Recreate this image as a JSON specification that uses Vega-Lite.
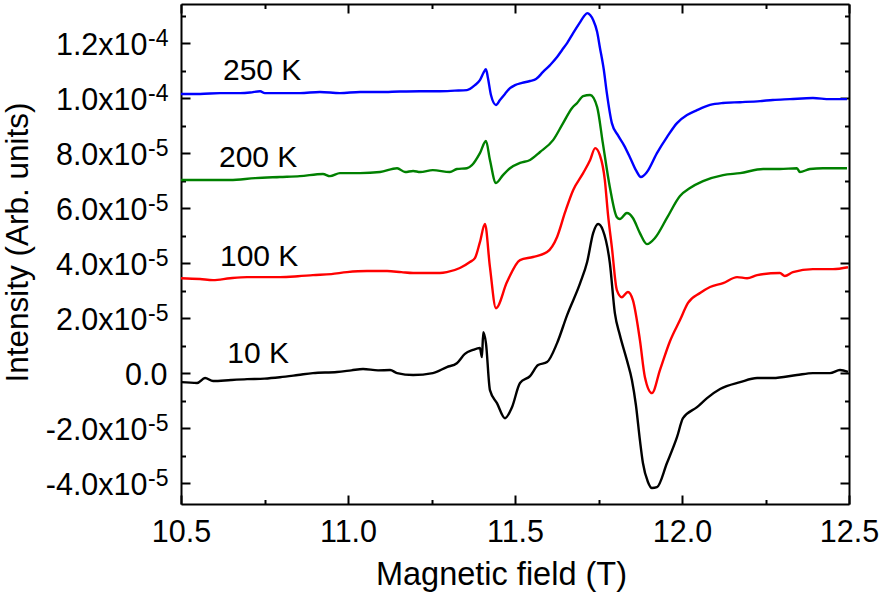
{
  "$schema": "https://vega.github.io/schema/vega-lite/v6.json",
  "width": 668,
  "height": 500,
  "autosize": {"type": "none"},
  "padding": {"left": 181, "top": 4, "right": 31, "bottom": 88},
  "background": "white",
  "config": {
    "view": {"stroke": null},
    "font": "Liberation Sans",
    "axis": {
      "grid": false,
      "domainColor": "black",
      "domainWidth": 2,
      "tickColor": "black",
      "tickWidth": 2,
      "labelColor": "black",
      "titleColor": "black",
      "labelFont": "Liberation Sans",
      "titleFont": "Liberation Sans",
      "labelFontWeight": "normal",
      "titleFontWeight": "normal",
      "labelOverlap": false,
      "labelFlush": false,
      "labelBound": false
    }
  },
  "datasets": {
    "k10": [
      {"B": 10.500, "I": -0.33e-5}, {"B": 10.548, "I": -0.36e-5}, {"B": 10.572, "I": -0.18e-5}, {"B": 10.596, "I": -0.29e-5},
      {"B": 10.650, "I": -0.25e-5}, {"B": 10.698, "I": -0.22e-5}, {"B": 10.750, "I": -0.20e-5}, {"B": 10.796, "I": -0.15e-5},
      {"B": 10.850, "I": -0.07e-5}, {"B": 10.895, "I": 0.0}, {"B": 10.967, "I": 0.04e-5}, {"B": 11.010, "I": 0.10e-5},
      {"B": 11.045, "I": 0.15e-5}, {"B": 11.090, "I": 0.10e-5}, {"B": 11.126, "I": 0.11e-5}, {"B": 11.147, "I": 0.0},
      {"B": 11.195, "I": -0.07e-5}, {"B": 11.254, "I": 0.0}, {"B": 11.296, "I": 0.22e-5}, {"B": 11.326, "I": 0.36e-5},
      {"B": 11.350, "I": 0.70e-5}, {"B": 11.374, "I": 0.84e-5}, {"B": 11.395, "I": 0.91e-5}, {"B": 11.401, "I": 0.58e-5},
      {"B": 11.405, "I": 1.49e-5}, {"B": 11.413, "I": 1.09e-5}, {"B": 11.425, "I": -0.62e-5}, {"B": 11.446, "I": -1.09e-5},
      {"B": 11.470, "I": -1.64e-5}, {"B": 11.491, "I": -1.24e-5}, {"B": 11.515, "I": -0.36e-5}, {"B": 11.545, "I": -0.11e-5},
      {"B": 11.569, "I": 0.29e-5}, {"B": 11.596, "I": 0.40e-5}, {"B": 11.626, "I": 1.09e-5}, {"B": 11.656, "I": 2.11e-5},
      {"B": 11.695, "I": 3.27e-5}, {"B": 11.716, "I": 4.04e-5}, {"B": 11.734, "I": 5.09e-5}, {"B": 11.749, "I": 5.42e-5},
      {"B": 11.763, "I": 5.20e-5}, {"B": 11.784, "I": 4.00e-5}, {"B": 11.799, "I": 2.18e-5}, {"B": 11.814, "I": 1.38e-5},
      {"B": 11.835, "I": 0.47e-5}, {"B": 11.850, "I": -0.25e-5}, {"B": 11.862, "I": -1.16e-5}, {"B": 11.874, "I": -2.44e-5},
      {"B": 11.883, "I": -3.27e-5}, {"B": 11.898, "I": -3.96e-5}, {"B": 11.910, "I": -4.18e-5}, {"B": 11.925, "I": -4.15e-5},
      {"B": 11.955, "I": -3.27e-5}, {"B": 11.985, "I": -2.33e-5}, {"B": 12.003, "I": -1.64e-5}, {"B": 12.045, "I": -1.24e-5},
      {"B": 12.075, "I": -0.91e-5}, {"B": 12.114, "I": -0.58e-5}, {"B": 12.174, "I": -0.33e-5}, {"B": 12.225, "I": -0.18e-5},
      {"B": 12.272, "I": -0.18e-5}, {"B": 12.344, "I": -0.07e-5}, {"B": 12.392, "I": 0.0}, {"B": 12.443, "I": 0.0},
      {"B": 12.473, "I": 0.11e-5}, {"B": 12.497, "I": 0.04e-5}
    ],
    "k100": [
      {"B": 10.500, "I": 3.45e-5}, {"B": 10.557, "I": 3.42e-5}, {"B": 10.596, "I": 3.38e-5}, {"B": 10.647, "I": 3.45e-5},
      {"B": 10.698, "I": 3.49e-5}, {"B": 10.751, "I": 3.49e-5}, {"B": 10.796, "I": 3.49e-5}, {"B": 10.850, "I": 3.52e-5},
      {"B": 10.895, "I": 3.56e-5}, {"B": 10.950, "I": 3.60e-5}, {"B": 10.997, "I": 3.67e-5}, {"B": 11.057, "I": 3.71e-5},
      {"B": 11.117, "I": 3.71e-5}, {"B": 11.160, "I": 3.67e-5}, {"B": 11.195, "I": 3.64e-5}, {"B": 11.275, "I": 3.64e-5},
      {"B": 11.296, "I": 3.67e-5}, {"B": 11.335, "I": 3.82e-5}, {"B": 11.365, "I": 4.04e-5}, {"B": 11.380, "I": 4.18e-5},
      {"B": 11.395, "I": 4.76e-5}, {"B": 11.410, "I": 5.42e-5}, {"B": 11.425, "I": 3.85e-5}, {"B": 11.443, "I": 2.36e-5},
      {"B": 11.476, "I": 3.31e-5}, {"B": 11.515, "I": 4.11e-5}, {"B": 11.554, "I": 4.22e-5}, {"B": 11.596, "I": 4.40e-5},
      {"B": 11.626, "I": 4.95e-5}, {"B": 11.650, "I": 5.85e-5}, {"B": 11.674, "I": 6.65e-5}, {"B": 11.704, "I": 7.27e-5},
      {"B": 11.725, "I": 7.75e-5}, {"B": 11.740, "I": 8.18e-5}, {"B": 11.754, "I": 7.93e-5}, {"B": 11.769, "I": 7.02e-5},
      {"B": 11.778, "I": 5.82e-5}, {"B": 11.790, "I": 4.58e-5}, {"B": 11.805, "I": 3.02e-5}, {"B": 11.820, "I": 2.76e-5},
      {"B": 11.838, "I": 2.95e-5}, {"B": 11.853, "I": 2.65e-5}, {"B": 11.874, "I": 1.20e-5}, {"B": 11.889, "I": -0.15e-5},
      {"B": 11.910, "I": -0.73e-5}, {"B": 11.934, "I": 0.11e-5}, {"B": 11.964, "I": 1.16e-5}, {"B": 11.994, "I": 1.93e-5},
      {"B": 12.018, "I": 2.55e-5}, {"B": 12.054, "I": 2.91e-5}, {"B": 12.084, "I": 3.13e-5}, {"B": 12.123, "I": 3.27e-5},
      {"B": 12.165, "I": 3.49e-5}, {"B": 12.195, "I": 3.45e-5}, {"B": 12.225, "I": 3.56e-5}, {"B": 12.293, "I": 3.64e-5},
      {"B": 12.308, "I": 3.53e-5}, {"B": 12.332, "I": 3.67e-5}, {"B": 12.392, "I": 3.78e-5}, {"B": 12.452, "I": 3.78e-5},
      {"B": 12.497, "I": 3.85e-5}
    ],
    "k200": [
      {"B": 10.500, "I": 7.02e-5}, {"B": 10.557, "I": 7.02e-5}, {"B": 10.647, "I": 7.02e-5}, {"B": 10.722, "I": 7.09e-5},
      {"B": 10.796, "I": 7.13e-5}, {"B": 10.856, "I": 7.16e-5}, {"B": 10.925, "I": 7.24e-5}, {"B": 10.946, "I": 7.16e-5},
      {"B": 10.976, "I": 7.27e-5}, {"B": 11.036, "I": 7.27e-5}, {"B": 11.096, "I": 7.31e-5}, {"B": 11.147, "I": 7.45e-5},
      {"B": 11.171, "I": 7.31e-5}, {"B": 11.195, "I": 7.35e-5}, {"B": 11.216, "I": 7.31e-5}, {"B": 11.254, "I": 7.38e-5},
      {"B": 11.305, "I": 7.31e-5}, {"B": 11.326, "I": 7.42e-5}, {"B": 11.356, "I": 7.45e-5}, {"B": 11.371, "I": 7.56e-5},
      {"B": 11.395, "I": 8.00e-5}, {"B": 11.413, "I": 8.44e-5}, {"B": 11.425, "I": 7.75e-5}, {"B": 11.443, "I": 6.91e-5},
      {"B": 11.464, "I": 7.20e-5}, {"B": 11.485, "I": 7.45e-5}, {"B": 11.515, "I": 7.64e-5}, {"B": 11.545, "I": 7.75e-5},
      {"B": 11.575, "I": 8.04e-5}, {"B": 11.614, "I": 8.47e-5}, {"B": 11.644, "I": 9.09e-5}, {"B": 11.671, "I": 9.64e-5},
      {"B": 11.686, "I": 9.82e-5}, {"B": 11.704, "I": 10.07e-5}, {"B": 11.725, "I": 10.11e-5}, {"B": 11.746, "I": 9.67e-5},
      {"B": 11.763, "I": 8.36e-5}, {"B": 11.784, "I": 6.76e-5}, {"B": 11.805, "I": 5.67e-5}, {"B": 11.814, "I": 5.60e-5},
      {"B": 11.835, "I": 5.82e-5}, {"B": 11.853, "I": 5.64e-5}, {"B": 11.874, "I": 5.09e-5}, {"B": 11.895, "I": 4.69e-5},
      {"B": 11.919, "I": 4.91e-5}, {"B": 11.955, "I": 5.64e-5}, {"B": 11.994, "I": 6.44e-5}, {"B": 12.024, "I": 6.73e-5},
      {"B": 12.063, "I": 6.98e-5}, {"B": 12.123, "I": 7.20e-5}, {"B": 12.174, "I": 7.27e-5}, {"B": 12.243, "I": 7.42e-5},
      {"B": 12.293, "I": 7.42e-5}, {"B": 12.344, "I": 7.45e-5}, {"B": 12.353, "I": 7.31e-5}, {"B": 12.383, "I": 7.42e-5},
      {"B": 12.422, "I": 7.45e-5}, {"B": 12.494, "I": 7.45e-5}
    ],
    "k250": [
      {"B": 10.500, "I": 10.15e-5}, {"B": 10.557, "I": 10.15e-5}, {"B": 10.617, "I": 10.18e-5}, {"B": 10.677, "I": 10.18e-5},
      {"B": 10.707, "I": 10.20e-5}, {"B": 10.737, "I": 10.25e-5}, {"B": 10.751, "I": 10.18e-5}, {"B": 10.796, "I": 10.18e-5},
      {"B": 10.856, "I": 10.18e-5}, {"B": 10.916, "I": 10.22e-5}, {"B": 10.976, "I": 10.18e-5}, {"B": 11.036, "I": 10.22e-5},
      {"B": 11.096, "I": 10.22e-5}, {"B": 11.156, "I": 10.24e-5}, {"B": 11.216, "I": 10.25e-5}, {"B": 11.275, "I": 10.25e-5},
      {"B": 11.320, "I": 10.27e-5}, {"B": 11.356, "I": 10.29e-5}, {"B": 11.380, "I": 10.47e-5}, {"B": 11.395, "I": 10.65e-5},
      {"B": 11.407, "I": 10.95e-5}, {"B": 11.413, "I": 11.05e-5}, {"B": 11.419, "I": 10.73e-5}, {"B": 11.428, "I": 10.11e-5},
      {"B": 11.443, "I": 9.75e-5}, {"B": 11.455, "I": 9.93e-5}, {"B": 11.470, "I": 10.15e-5}, {"B": 11.485, "I": 10.36e-5},
      {"B": 11.500, "I": 10.47e-5}, {"B": 11.521, "I": 10.55e-5}, {"B": 11.545, "I": 10.62e-5}, {"B": 11.563, "I": 10.69e-5},
      {"B": 11.584, "I": 10.95e-5}, {"B": 11.605, "I": 11.20e-5}, {"B": 11.626, "I": 11.49e-5}, {"B": 11.641, "I": 11.75e-5},
      {"B": 11.656, "I": 12.00e-5}, {"B": 11.674, "I": 12.36e-5}, {"B": 11.695, "I": 12.76e-5}, {"B": 11.707, "I": 12.98e-5},
      {"B": 11.716, "I": 13.09e-5}, {"B": 11.725, "I": 13.02e-5}, {"B": 11.734, "I": 12.84e-5}, {"B": 11.746, "I": 12.40e-5},
      {"B": 11.754, "I": 11.85e-5}, {"B": 11.766, "I": 11.02e-5}, {"B": 11.775, "I": 10.18e-5}, {"B": 11.790, "I": 9.09e-5},
      {"B": 11.808, "I": 8.65e-5}, {"B": 11.826, "I": 8.29e-5}, {"B": 11.844, "I": 7.85e-5}, {"B": 11.862, "I": 7.38e-5},
      {"B": 11.877, "I": 7.13e-5}, {"B": 11.895, "I": 7.31e-5}, {"B": 11.925, "I": 8.00e-5}, {"B": 11.955, "I": 8.58e-5},
      {"B": 11.985, "I": 9.09e-5}, {"B": 12.015, "I": 9.38e-5}, {"B": 12.045, "I": 9.56e-5}, {"B": 12.084, "I": 9.75e-5},
      {"B": 12.123, "I": 9.82e-5}, {"B": 12.174, "I": 9.85e-5}, {"B": 12.234, "I": 9.89e-5}, {"B": 12.272, "I": 9.93e-5},
      {"B": 12.323, "I": 9.96e-5}, {"B": 12.392, "I": 10.00e-5}, {"B": 12.443, "I": 9.96e-5}, {"B": 12.494, "I": 9.96e-5}
    ],
    "labels": [
      {"label": "250 K", "B": 10.743, "I": 10.98e-5},
      {"label": "200 K", "B": 10.731, "I": 7.82e-5},
      {"label": "100 K", "B": 10.734, "I": 4.22e-5},
      {"label": "10 K", "B": 10.731, "I": 0.69e-5}
    ]
  },
  "resolve": {"axis": {"x": "independent", "y": "independent"}},
  "layer": [
    {
      "data": {"name": "k10"},
      "mark": {"type": "line", "color": "#000000", "strokeWidth": 2.4, "interpolate": "monotone"},
      "encoding": {
        "x": {"field": "B", "type": "quantitative", "scale": {"domain": [10.5, 12.5], "nice": false, "zero": false},
          "axis": {"orient": "bottom", "values": [10.5, 11, 11.5, 12, 12.5], "format": ".1f", "tickSize": -9, "labelPadding": 22, "labelFontSize": 30.5,
            "title": "Magnetic field (T)", "titleFontSize": 32.5, "titleX": 320, "titleY": 80, "titleBaseline": "alphabetic", "titleAlign": "center"}},
        "y": {"field": "I", "type": "quantitative", "scale": {"domain": [-4.76e-5, 1.342e-4], "nice": false, "zero": false},
          "axis": {"orient": "left", "values": [-4e-5, -2e-5, 0, 2e-5, 4e-5, 6e-5, 8e-5, 1e-4, 1.2e-4], "tickSize": -9,
            "labelPadding": {"condition": {"test": "datum.value == 0", "value": 23}, "value": 43},
            "labelFontSize": 30.5, "labelBaseline": "middle", "labelOffset": 2,
            "labelExpr": "datum.value == 0 ? '0.0' : ((datum.value < 0 ? '-' : '') + format(abs(datum.value) * (abs(datum.value) >= 9.9e-5 ? 1e4 : 1e5), '.1f') + 'x10')",
            "title": "Intensity (Arb. units)", "titleFontSize": 31.5, "titleX": -154, "titleY": 238, "titleBaseline": "alphabetic", "titleAlign": "center", "titleAngle": -90}}
      }
    },
    {
      "data": {"name": "k100"},
      "mark": {"type": "line", "color": "#ff0000", "strokeWidth": 2.4, "interpolate": "monotone"},
      "encoding": {
        "x": {"field": "B", "type": "quantitative", "scale": {"domain": [10.5, 12.5], "nice": false, "zero": false},
          "axis": {"orient": "top", "values": [10.5, 11, 11.5, 12, 12.5], "tickSize": -9, "labels": false, "title": null}},
        "y": {"field": "I", "type": "quantitative", "scale": {"domain": [-4.76e-5, 1.342e-4], "nice": false, "zero": false},
          "axis": {"orient": "right", "values": [-4e-5, -2e-5, 0, 2e-5, 4e-5, 6e-5, 8e-5, 1e-4, 1.2e-4], "tickSize": -9, "labels": false, "title": null}}
      }
    },
    {
      "data": {"name": "k200"},
      "mark": {"type": "line", "color": "#008000", "strokeWidth": 2.4, "interpolate": "monotone"},
      "encoding": {
        "x": {"field": "B", "type": "quantitative", "scale": {"domain": [10.5, 12.5], "nice": false, "zero": false},
          "axis": {"orient": "bottom", "values": [10.75, 11.25, 11.75, 12.25], "tickSize": -4.5, "labels": false, "domain": false, "title": null}},
        "y": {"field": "I", "type": "quantitative", "scale": {"domain": [-4.76e-5, 1.342e-4], "nice": false, "zero": false},
          "axis": {"orient": "left", "values": [-3e-5, -1e-5, 1e-5, 3e-5, 5e-5, 7e-5, 9e-5, 1.1e-4, 1.3e-4], "tickSize": -4.5, "labels": false, "domain": false, "title": null}}
      }
    },
    {
      "data": {"name": "k250"},
      "mark": {"type": "line", "color": "#0000ff", "strokeWidth": 2.4, "interpolate": "monotone"},
      "encoding": {
        "x": {"field": "B", "type": "quantitative", "scale": {"domain": [10.5, 12.5], "nice": false, "zero": false},
          "axis": {"orient": "top", "values": [10.75, 11.25, 11.75, 12.25], "tickSize": -4.5, "labels": false, "domain": false, "title": null}},
        "y": {"field": "I", "type": "quantitative", "scale": {"domain": [-4.76e-5, 1.342e-4], "nice": false, "zero": false},
          "axis": {"orient": "right", "values": [-3e-5, -1e-5, 1e-5, 3e-5, 5e-5, 7e-5, 9e-5, 1.1e-4, 1.3e-4], "tickSize": -4.5, "labels": false, "domain": false, "title": null}}
      }
    },
    {
      "data": {"name": "labels"},
      "mark": {"type": "text", "fontSize": 30, "font": "Liberation Sans", "align": "center", "baseline": "middle", "color": "black"},
      "encoding": {
        "x": {"field": "B", "type": "quantitative", "scale": {"domain": [10.5, 12.5], "nice": false, "zero": false}, "axis": null},
        "y": {"field": "I", "type": "quantitative", "scale": {"domain": [-4.76e-5, 1.342e-4], "nice": false, "zero": false},
          "axis": {"orient": "left", "values": [-4e-5, -2e-5, 1e-4, 1.2e-4, 2e-5, 4e-5, 6e-5, 8e-5], "ticks": false, "domain": false, "labelPadding": 13,
            "labelFontSize": 23, "labelBaseline": "middle", "labelOffset": -5,
            "labelExpr": "abs(datum.value) >= 9.9e-5 ? '-4' : '-5'", "title": null}},
        "text": {"field": "label"}
      }
    }
  ]
}
